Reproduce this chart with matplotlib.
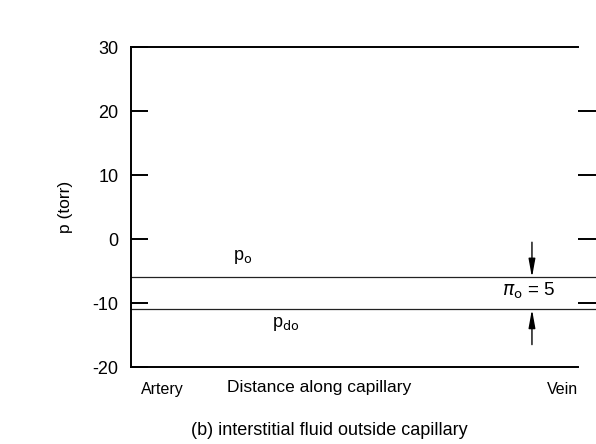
import matplotlib
matplotlib.use("Agg")
import matplotlib.pyplot as plt

plt.rcParams['font.family'] = ['Liberation Sans', 'DejaVu Sans']

# data
y_ticks = [30, 20, 10, 0, -10, -20]
right_ticks = [20, 10, 0, -10]
distance = [0.0, 1.04]          # artery -> vein (axes fraction, lines run past the frame)
p_o = [-6, -6]                  # interstitial pressure
p_do = [-11, -11]               # p_o - pi_o
pi_o = 5

fig = plt.figure(figsize=(5.96, 4.44), dpi=100)
ax = fig.add_axes([0.2198, 0.1734, 0.750, 0.7207])
ax.set_xlim(0, 1)
ax.set_ylim(-20, 30)

ax.spines['right'].set_visible(False)
for s in ['left', 'top', 'bottom']:
    ax.spines[s].set_linewidth(1.4)

ax.set_yticks(y_ticks)
ax.set_yticklabels([str(v) for v in y_ticks])
ax.tick_params(axis='y', direction='in', length=12, width=1.4, labelsize=13, pad=9)
ax.set_xticks([])

# right hand ticks outside the frame
sec = ax.secondary_yaxis('right')
sec.set_yticks(right_ticks)
sec.set_yticklabels([])
sec.spines['right'].set_visible(False)
sec.tick_params(direction='out', length=13, width=1.4, pad=0)

ax.plot(distance, p_o, color='#222222', lw=0.9, clip_on=False)
ax.plot(distance, p_do, color='#222222', lw=0.9, clip_on=False)

xa = 0.897
arrow = dict(arrowstyle='-|>,head_length=1.1,head_width=0.2', color='black', lw=1.0,
             shrinkA=0, shrinkB=0)
ax.annotate('', xy=(xa, p_o[0]), xytext=(xa, p_o[0] + pi_o + 0.5), arrowprops=arrow)
ax.annotate('', xy=(xa, p_do[0]), xytext=(xa, p_do[0] - pi_o - 0.5), arrowprops=arrow)
ax.text(0.83, (p_o[0] + p_do[0]) / 2 + 0.4, r'$\pi_{\rm o}$ = %d' % pi_o, fontsize=13.5,
        ha='left', va='center')

ax.text(0.25, p_o[0] + 1.8, r'p$_{\rm o}$', fontsize=13, ha='center', va='bottom')
ax.text(0.345, p_do[0] - 0.9, r'p$_{\rm do}$', fontsize=13, ha='center', va='top')

ax.set_ylabel('p (torr)', fontsize=12.5, labelpad=14)

ax.text(0.07, -0.07, 'Artery', transform=ax.transAxes, fontsize=11.5, ha='center', va='center')
ax.text(0.42, -0.065, 'Distance along capillary', transform=ax.transAxes, fontsize=12.5,
        ha='center', va='center')
ax.text(0.966, -0.07, 'Vein', transform=ax.transAxes, fontsize=11.5, ha='center', va='center')

fig.text(0.553, 0.03, '(b) interstitial fluid outside capillary', fontsize=13,
         ha='center', va='center')

fig.savefig('out.png', dpi=100)
